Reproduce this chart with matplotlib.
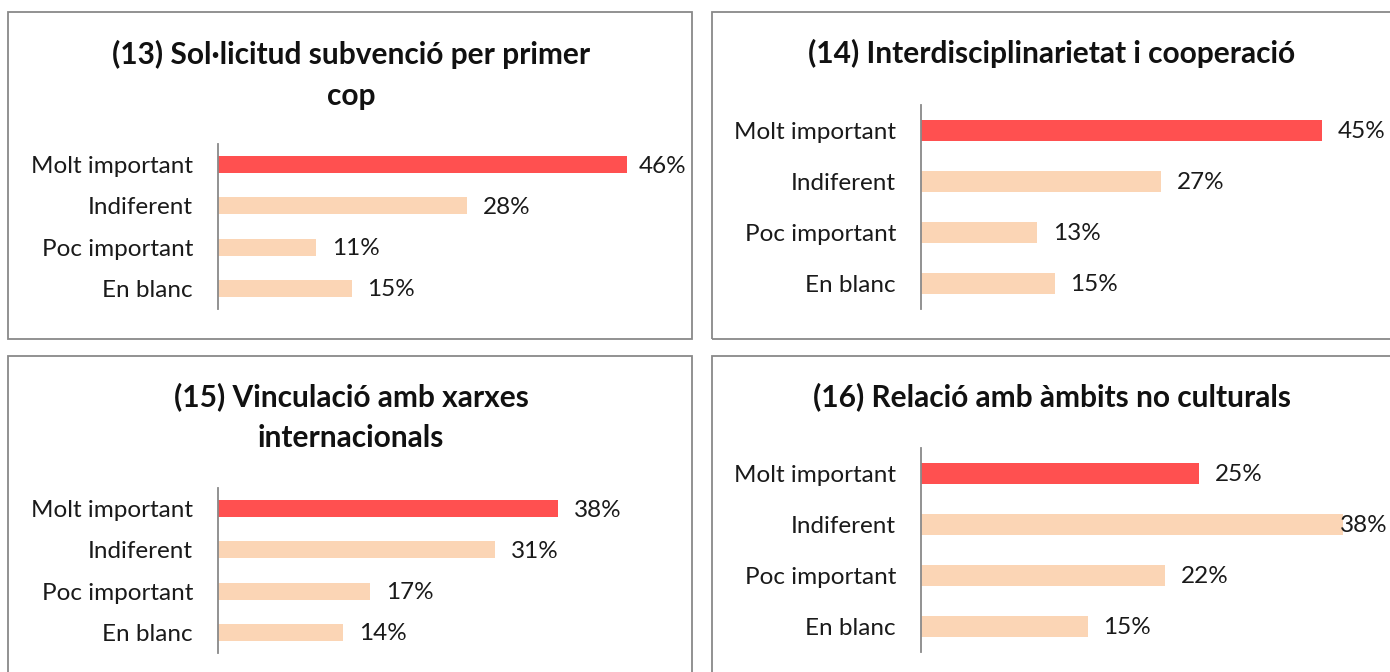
import matplotlib.pyplot as plt
from matplotlib.patches import Rectangle

plt.rcParams['font.family'] = ['Lato', 'DejaVu Sans']

categories = ["Molt important", "Indiferent", "Poc important", "En blanc"]
titles = ["(13) Sol·licitud subvenció per primer\ncop",
          "(14) Interdisciplinarietat i cooperació",
          "(15) Vinculació amb xarxes\ninternacionals",
          "(16) Relació amb àmbits no culturals"]
v13 = [46, 28, 11, 15]
v14 = [45, 27, 13, 15]
v15 = [38, 31, 17, 14]
v16 = [25, 38, 22, 15]
values = [v13, v14, v15, v16]

W, H = 1390, 672
RED = "#FF5050"
PEACH = "#FBD5B5"
GRAY = "#898989"

# layout in pixels: box (x0, y0, x1, y1), axes (x0, ytop, x1, ybot), xmax, title centre y
boxes = [(8, 12, 692, 339), (712, 12, 1400, 339), (8, 356, 692, 690), (712, 356, 1400, 690)]
axrects = [(218, 144, 663, 309), (921, 105, 1366, 309), (218, 488, 576, 653), (921, 448, 1365, 652)]
xmaxs = [50, 50, 40, 40]
title_y = [75, 53, 417, 397]
label_lim = [686, 1388, 686, 1388]

fig = plt.figure(figsize=(W / 100, H / 100), dpi=100)

def px(x, y):
    return x / W, 1 - y / H

texts = []
for i in range(4):
    bx0, by0, bx1, by1 = boxes[i]
    fig.patches.append(Rectangle(px(bx0, by1), (bx1 - bx0) / W, (by1 - by0) / H,
                                 transform=fig.transFigure, fill=False,
                                 edgecolor=GRAY, linewidth=1.3))
    ax0, ay0, ax1, ay1 = axrects[i]
    l, b = px(ax0, ay1)
    ax = fig.add_axes([l, b, (ax1 - ax0) / W, (ay1 - ay0) / H])
    cols = [RED] + [PEACH] * 3
    ypos = list(range(len(categories)))
    ax.barh(ypos, values[i], height=0.41, color=cols)
    ax.set_xlim(0, xmaxs[i])
    ax.set_ylim(3.5, -0.5)
    ax.set_yticks(ypos)
    ax.set_yticklabels(categories, fontsize=17.5, color="#1a1a1a")
    ax.tick_params(axis='y', length=0, pad=18)
    ax.set_xticks([])
    for s in ['top', 'right', 'bottom']:
        ax.spines[s].set_visible(False)
    ax.spines['left'].set_color(GRAY)
    ax.spines['left'].set_linewidth(1.3)
    ax.patch.set_alpha(0)
    for y, v in zip(ypos, values[i]):
        t = ax.annotate(f"{v}%", (v, y), xytext=(11.5, -1), textcoords='offset points',
                        va='center', ha='left', fontsize=17.5, color="#1a1a1a",
                        annotation_clip=False)
        texts.append((t, label_lim[i]))
    tx = 351 if i in (0, 2) else 1052
    fig.text(tx / W, 1 - title_y[i] / H, titles[i], ha='center', va='center',
             fontsize=21.5, fontweight='bold', linespacing=1.55, color="#111111")

# keep value labels inside their chart box, like the spreadsheet does
fig.canvas.draw()
r = fig.canvas.get_renderer()
for t, lim in texts:
    bb = t.get_window_extent(r)
    if bb.x1 > lim:
        x, y = t.xyann
        t.xyann = (x - (bb.x1 - lim) * 72 / 100, y)

fig.savefig("out.png", dpi=100)
